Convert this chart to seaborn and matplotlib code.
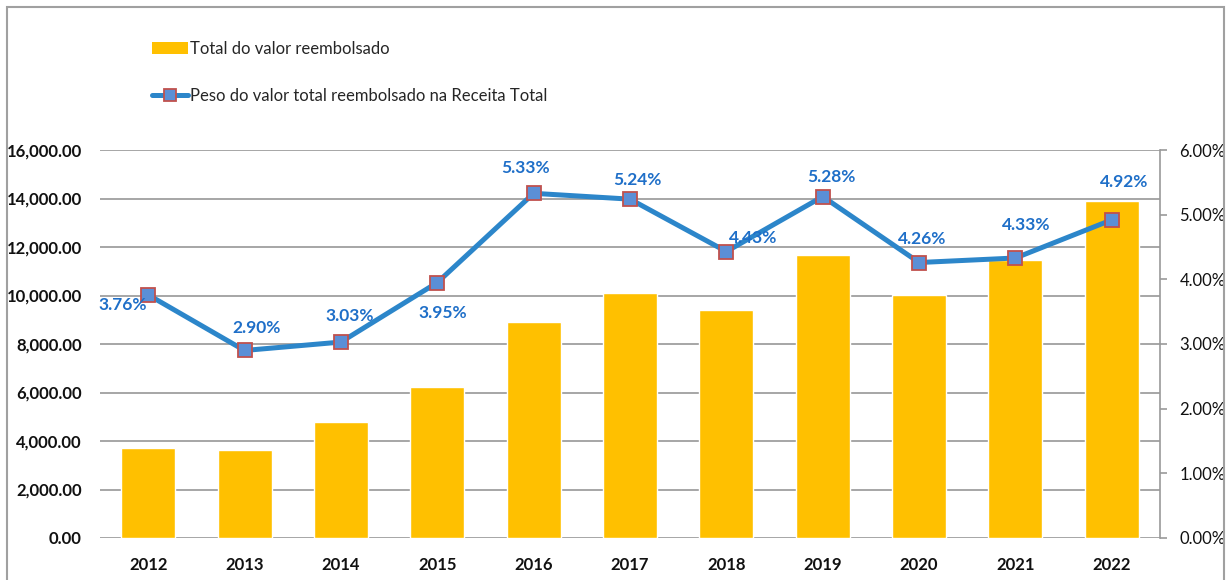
import matplotlib
matplotlib.use("Agg")
import matplotlib.pyplot as plt
from matplotlib.patches import Rectangle, Patch
from matplotlib.lines import Line2D
from matplotlib.ticker import FuncFormatter, FixedLocator
import numpy as np
import pandas as pd
import seaborn as sns

# Data
years = ["2012", "2013", "2014", "2015", "2016", "2017", "2018", "2019", "2020", "2021", "2022"]
reimbursed_total = [3710, 3630, 4780, 6230, 8910, 10100, 9400, 11670, 10020, 11460, 13900]
share_pct = [3.76, 2.90, 3.03, 3.95, 5.33, 5.24, 4.43, 5.28, 4.26, 4.33, 4.92]
bar_label = "Total do valor reembolsado"
line_label = "Peso do valor total reembolsado na Receita Total"

# Label offsets (points) for the percentage annotations
label_offsets = [(-18, -7), (9, 16), (6, 19), (4, -22), (-6, 18), (5, 14),
                 (19, 10), (6, 14), (2, 17), (8, 24), (9, 27)]

sns.set_theme(style="white")
plt.rcParams["font.family"] = ["Lato", "DejaVu Sans"]

BAR = "#FFC000"
LINE = "#2C86CA"
MFACE = "#5B8FD6"
MEDGE = "#C0504D"
LBL = "#1F6FC8"
GRID = "#A6A6A6"

fig = plt.figure(figsize=(12.31, 5.80), dpi=100)
ax = fig.add_axes([100 / 1231, 42 / 580, 1060 / 1231, 388 / 580])

df = pd.DataFrame({"year": years, "total": reimbursed_total, "pct": share_pct})
sns.barplot(data=df, x="year", y="total", color=BAR, saturation=1, width=0.56, ax=ax, zorder=2)
ax.set_xlim(-0.5, len(years) - 0.5)
ax.set_ylim(0, 16000)
ax.yaxis.set_major_locator(FixedLocator(np.arange(0, 16001, 2000)))
ax.yaxis.set_major_formatter(FuncFormatter(lambda v, p: f"{v:,.2f}"))
ax.grid(axis="y", color=GRID, linewidth=1.4, zorder=0)
ax.set_axisbelow(True)
for s in ["top", "left", "bottom", "right"]:
    ax.spines[s].set_visible(False)
ax.set_xlabel("")
ax.set_ylabel("")
ax.tick_params(axis="y", length=0, pad=13, labelsize=12)
ax.tick_params(axis="x", length=0, pad=14, labelsize=12)
for t in ax.get_yticklabels() + ax.get_xticklabels():
    t.set_fontweight("bold")
    t.set_color("#111111")

ax2 = ax.twinx()
xs = np.arange(len(years))
sns.lineplot(x=xs, y=share_pct, ax=ax2, color=LINE, linewidth=3.6, marker="s",
             markersize=10.5, markerfacecolor=MFACE, markeredgecolor=MEDGE,
             markeredgewidth=1.3, zorder=5)
ax2.set_ylim(0, 6)
ax2.yaxis.set_major_locator(FixedLocator(np.arange(0, 6.01, 1)))
ax2.yaxis.set_major_formatter(FuncFormatter(lambda v, p: f"{v:.2f}%"))
for s in ["top", "left", "bottom"]:
    ax2.spines[s].set_visible(False)
ax2.spines["right"].set_color("#999999")
ax2.spines["right"].set_linewidth(1.2)
ax2.tick_params(axis="y", direction="out", length=5, width=1.2, color="#999999",
                pad=9, labelsize=12, labelcolor="#111111")
ax2.set_xlim(-0.5, len(years) - 0.5)

for x, v, (dx, dy) in zip(xs, share_pct, label_offsets):
    ax2.annotate(f"{v:.2f}%", (x, v), xytext=(dx, dy), textcoords="offset points",
                 ha="center", va="center", color=LBL, fontsize=12.5, fontweight="bold",
                 zorder=6)

handles = [
    Patch(facecolor=BAR, edgecolor="none"),
    Line2D([0], [0], color=LINE, linewidth=3.6, marker="s", markersize=9,
           markerfacecolor=MFACE, markeredgecolor=MEDGE, markeredgewidth=1.3),
]
fig.legend(handles, [bar_label, line_label], loc="upper left",
           bbox_to_anchor=(145 / 1231, 1 - 34 / 580), frameon=False,
           fontsize=12, labelspacing=1.85, handlelength=2.2, handleheight=0.75,
           handletextpad=0.12, borderaxespad=0)

# Outer frame
fig.patches.append(Rectangle((7 / 1231, -0.02), 1217 / 1231, 1.02 - 7 / 580,
                             transform=fig.transFigure, fill=False,
                             edgecolor="#A0A0A0", linewidth=1.5))

fig.savefig("out.png", dpi=100)
